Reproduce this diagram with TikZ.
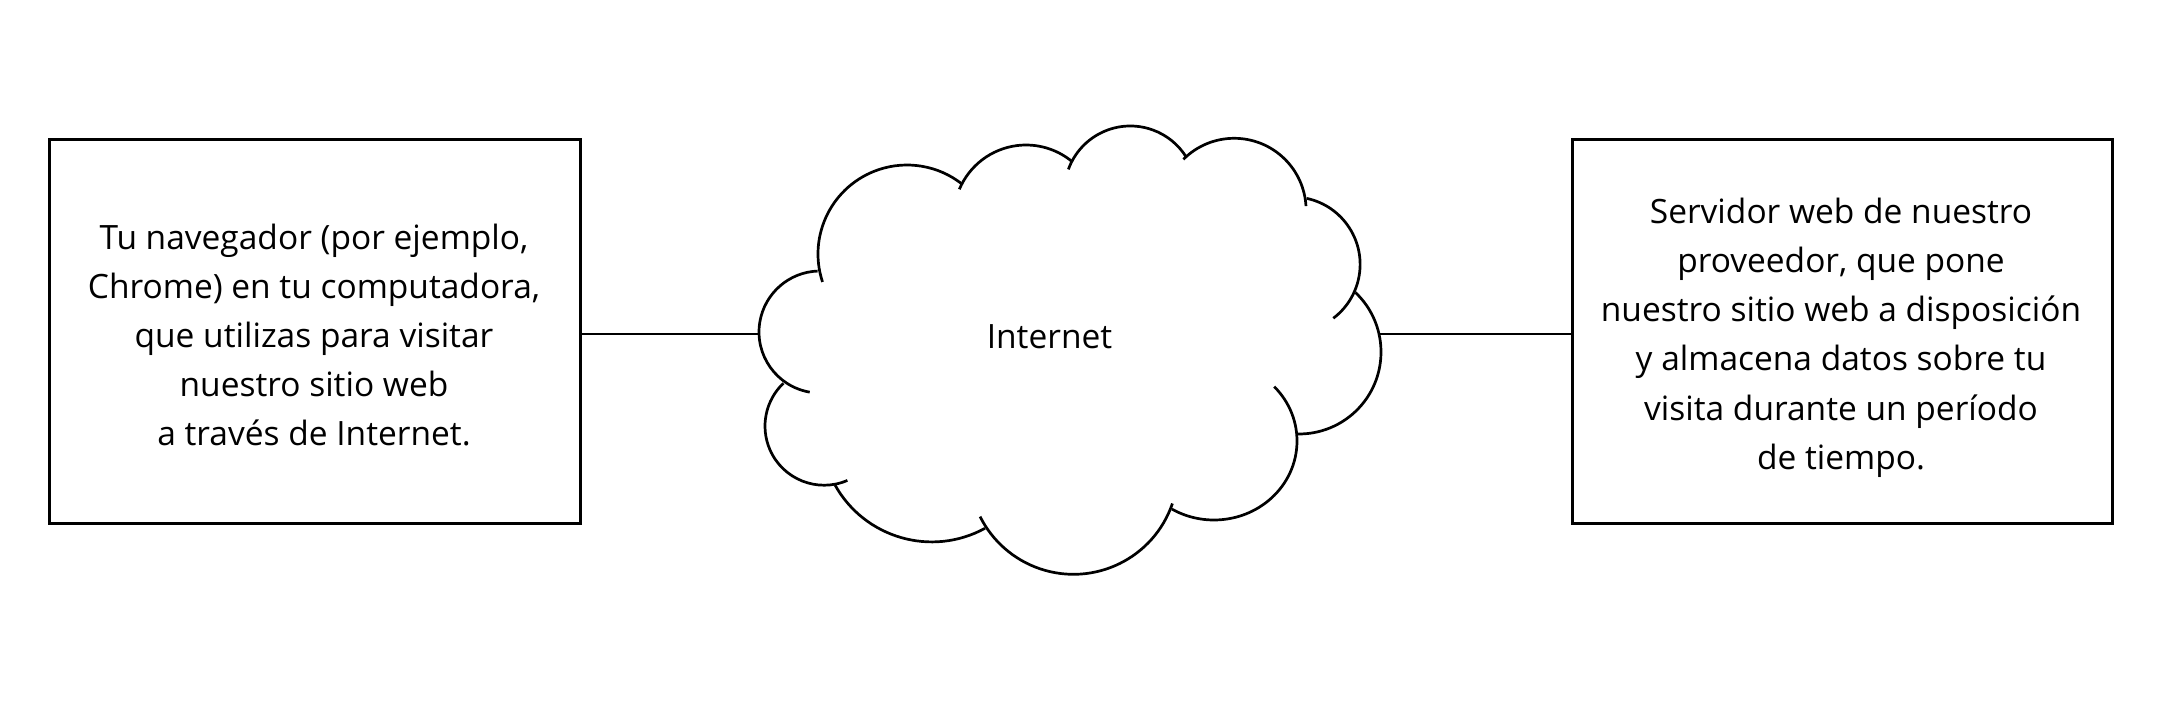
\documentclass[tikz,border=0pt]{standalone}
\usepackage{fontspec}
\setmainfont{Open Sans}
\tikzset{
  box/.style={draw, line width=2.4pt, minimum width=531pt, minimum height=384pt, inner sep=0pt},
  boxtext/.style={align=center, inner sep=0pt, font=\fontsize{33.5pt}{49.2pt}\selectfont},
  conn/.style={line width=2.4pt},
  cloudline/.style={line width=2.7pt},
  lbl/.style={font=\fontsize{33.5pt}{40pt}\selectfont, inner sep=0pt}
}
\begin{document}
\begin{tikzpicture}[x=1pt,y=1pt]
\fill[white] (0,0) rectangle (2170,-725);
\useasboundingbox (0,0) rectangle (2170,-725);
\node[box] (lbox) at (315,-331.3) {};
\node[boxtext] (ltext) at (314,-335) {Tu navegador (por ejemplo,\\Chrome) en tu computadora,\\que utilizas para visitar\\nuestro sitio web\\a través de Internet.};
\node[box, minimum width=540pt] (rbox) at (1842.5,-331.3) {};
\node[boxtext] (rtext) at (1841,-337.5) {Servidor web de nuestro\\proveedor, que pone\\nuestro sitio web a disposición\\y almacena datos sobre tu\\visita durante un período\\de tiempo.};
\node[lbl, anchor=base] (inet) at (1049.5,-348.3) {Internet};
\coordinate (cW) at (759,-334);
\coordinate (cE) at (1379,-334);
\begin{scope}[cloudline]
\draw (907,-254) ++(198.3:89pt) arc[start angle=198.3, end angle=52.5, radius=89pt];
\draw (1026,-217.3) ++(157.2:72.3pt) arc[start angle=157.2, end angle=50.2, radius=72.3pt];
\draw (1130.3,-191.9) ++(160:65.9pt) arc[start angle=160, end angle=32.3, radius=65.9pt];
\draw (1234.2,-210.2) ++(135:71.9pt) arc[start angle=135, end angle=3.3, radius=71.9pt];
\draw (1292.6,-264.4) ++(78:67.5pt) arc[start angle=78, end angle=-52.9, radius=67.5pt];
\draw (1299,-352) ++(46.6:82pt) arc[start angle=46.6, end angle=-91.6, radius=82pt];
\draw (1214,-441) ++(43.5:83pt and 79pt) arc[start angle=43.5, end angle=-120.5, x radius=83pt, y radius=79pt];
\draw (1073.5,-469.8) ++(-18.8:104.5pt) arc[start angle=-18.8, end angle=-153.4, radius=104.5pt];
\draw (931.8,-431.1) ++(-61.3:110.8pt) arc[start angle=-61.3, end angle=-150.9, radius=110.8pt];
\draw (824.1,-426.1) ++(-66.8:59.1pt) arc[start angle=-66.8, end angle=-226.4, radius=59.1pt];
\draw (820,-332) ++(-99.7:61pt) arc[start angle=-99.7, end angle=-267.8, radius=61pt];
\end{scope}
\draw[conn] (lbox.east |- cW) -- (cW);
\draw[conn] (cE) -- (rbox.west |- cE);
\end{tikzpicture}
\end{document}
